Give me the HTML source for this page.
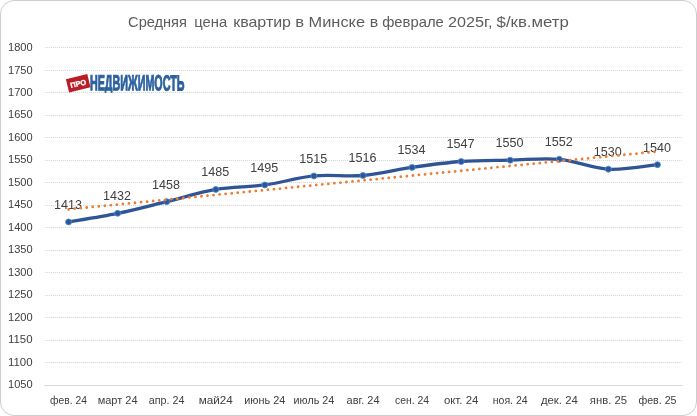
<!DOCTYPE html>
<html><head><meta charset="utf-8"><title>chart</title>
<style>
html,body{margin:0;padding:0;background:#fff;}
body{width:697px;height:416px;overflow:hidden;font-family:"Liberation Sans",sans-serif;}
svg{display:block}
text{font-family:"Liberation Sans",sans-serif;fill:#404040}
.t text{fill:#5c5c5c;font-size:15px}
</style></head><body>
<svg width="697" height="416" viewBox="0 0 697 416">
<rect x="0" y="0" width="697" height="416" fill="#fff"/>
<rect x="0.5" y="0.5" width="696" height="415" rx="13.5" ry="13.5" fill="#fff" stroke="#cecece" stroke-width="1"/>
<g class="t">
<text x="128.1" y="27" textLength="58.8" lengthAdjust="spacingAndGlyphs">Средняя</text>
<text x="194.3" y="27" textLength="32.9" lengthAdjust="spacingAndGlyphs">цена</text>
<text x="233.2" y="27" textLength="57.8" lengthAdjust="spacingAndGlyphs">квартир</text>
<text x="295.3" y="27" textLength="8.8" lengthAdjust="spacingAndGlyphs">в</text>
<text x="308.6" y="27" textLength="56.4" lengthAdjust="spacingAndGlyphs">Минске</text>
<text x="369.7" y="27" textLength="8.4" lengthAdjust="spacingAndGlyphs">в</text>
<text x="382.2" y="27" textLength="61.6" lengthAdjust="spacingAndGlyphs">феврале</text>
<text x="448.0" y="27" textLength="44.5" lengthAdjust="spacingAndGlyphs">2025г,</text>
<text x="496.6" y="27" textLength="72.2" lengthAdjust="spacingAndGlyphs">$/кв.метр</text>
</g>
<line x1="44.0" x2="682.5" y1="385.5" y2="385.5" stroke="#d9d9d9" stroke-width="1"/>
<text x="8.0" y="388.0" font-size="11.4" textLength="24.6" lengthAdjust="spacingAndGlyphs">1050</text>
<line x1="44.0" x2="682.5" y1="362.5" y2="362.5" stroke="#f8f8f8" stroke-width="1"/>
<line x1="44.0" x2="682.5" y1="362.5" y2="362.5" stroke="#d9d9d9" stroke-width="1" stroke-dasharray="1 1" stroke-dashoffset="1"/>
<text x="8.0" y="365.5" font-size="11.4" textLength="24.6" lengthAdjust="spacingAndGlyphs">1100</text>
<line x1="44.0" x2="682.5" y1="340.5" y2="340.5" stroke="#f8f8f8" stroke-width="1"/>
<line x1="44.0" x2="682.5" y1="340.5" y2="340.5" stroke="#d9d9d9" stroke-width="1" stroke-dasharray="1 1" stroke-dashoffset="1"/>
<text x="8.0" y="343.1" font-size="11.4" textLength="24.6" lengthAdjust="spacingAndGlyphs">1150</text>
<line x1="44.0" x2="682.5" y1="317.5" y2="317.5" stroke="#f8f8f8" stroke-width="1"/>
<line x1="44.0" x2="682.5" y1="317.5" y2="317.5" stroke="#d9d9d9" stroke-width="1" stroke-dasharray="1 1" stroke-dashoffset="1"/>
<text x="8.0" y="320.6" font-size="11.4" textLength="24.6" lengthAdjust="spacingAndGlyphs">1200</text>
<line x1="44.0" x2="682.5" y1="295.5" y2="295.5" stroke="#f8f8f8" stroke-width="1"/>
<line x1="44.0" x2="682.5" y1="295.5" y2="295.5" stroke="#d9d9d9" stroke-width="1" stroke-dasharray="1 1" stroke-dashoffset="1"/>
<text x="8.0" y="298.1" font-size="11.4" textLength="24.6" lengthAdjust="spacingAndGlyphs">1250</text>
<line x1="44.0" x2="682.5" y1="272.5" y2="272.5" stroke="#f8f8f8" stroke-width="1"/>
<line x1="44.0" x2="682.5" y1="272.5" y2="272.5" stroke="#d9d9d9" stroke-width="1" stroke-dasharray="1 1" stroke-dashoffset="1"/>
<text x="8.0" y="275.7" font-size="11.4" textLength="24.6" lengthAdjust="spacingAndGlyphs">1300</text>
<line x1="44.0" x2="682.5" y1="250.5" y2="250.5" stroke="#f8f8f8" stroke-width="1"/>
<line x1="44.0" x2="682.5" y1="250.5" y2="250.5" stroke="#d9d9d9" stroke-width="1" stroke-dasharray="1 1" stroke-dashoffset="1"/>
<text x="8.0" y="253.2" font-size="11.4" textLength="24.6" lengthAdjust="spacingAndGlyphs">1350</text>
<line x1="44.0" x2="682.5" y1="227.5" y2="227.5" stroke="#f8f8f8" stroke-width="1"/>
<line x1="44.0" x2="682.5" y1="227.5" y2="227.5" stroke="#d9d9d9" stroke-width="1" stroke-dasharray="1 1" stroke-dashoffset="1"/>
<text x="8.0" y="230.7" font-size="11.4" textLength="24.6" lengthAdjust="spacingAndGlyphs">1400</text>
<line x1="44.0" x2="682.5" y1="205.5" y2="205.5" stroke="#f8f8f8" stroke-width="1"/>
<line x1="44.0" x2="682.5" y1="205.5" y2="205.5" stroke="#d9d9d9" stroke-width="1" stroke-dasharray="1 1" stroke-dashoffset="1"/>
<text x="8.0" y="208.3" font-size="11.4" textLength="24.6" lengthAdjust="spacingAndGlyphs">1450</text>
<line x1="44.0" x2="682.5" y1="182.5" y2="182.5" stroke="#f8f8f8" stroke-width="1"/>
<line x1="44.0" x2="682.5" y1="182.5" y2="182.5" stroke="#d9d9d9" stroke-width="1" stroke-dasharray="1 1" stroke-dashoffset="1"/>
<text x="8.0" y="185.8" font-size="11.4" textLength="24.6" lengthAdjust="spacingAndGlyphs">1500</text>
<line x1="44.0" x2="682.5" y1="160.5" y2="160.5" stroke="#f8f8f8" stroke-width="1"/>
<line x1="44.0" x2="682.5" y1="160.5" y2="160.5" stroke="#d9d9d9" stroke-width="1" stroke-dasharray="1 1" stroke-dashoffset="1"/>
<text x="8.0" y="163.3" font-size="11.4" textLength="24.6" lengthAdjust="spacingAndGlyphs">1550</text>
<line x1="44.0" x2="682.5" y1="137.5" y2="137.5" stroke="#f8f8f8" stroke-width="1"/>
<line x1="44.0" x2="682.5" y1="137.5" y2="137.5" stroke="#d9d9d9" stroke-width="1" stroke-dasharray="1 1" stroke-dashoffset="1"/>
<text x="8.0" y="140.9" font-size="11.4" textLength="24.6" lengthAdjust="spacingAndGlyphs">1600</text>
<line x1="44.0" x2="682.5" y1="115.5" y2="115.5" stroke="#f8f8f8" stroke-width="1"/>
<line x1="44.0" x2="682.5" y1="115.5" y2="115.5" stroke="#d9d9d9" stroke-width="1" stroke-dasharray="1 1" stroke-dashoffset="1"/>
<text x="8.0" y="118.4" font-size="11.4" textLength="24.6" lengthAdjust="spacingAndGlyphs">1650</text>
<line x1="44.0" x2="682.5" y1="92.5" y2="92.5" stroke="#f8f8f8" stroke-width="1"/>
<line x1="44.0" x2="682.5" y1="92.5" y2="92.5" stroke="#d9d9d9" stroke-width="1" stroke-dasharray="1 1" stroke-dashoffset="1"/>
<text x="8.0" y="95.9" font-size="11.4" textLength="24.6" lengthAdjust="spacingAndGlyphs">1700</text>
<line x1="44.0" x2="682.5" y1="70.5" y2="70.5" stroke="#f8f8f8" stroke-width="1"/>
<line x1="44.0" x2="682.5" y1="70.5" y2="70.5" stroke="#d9d9d9" stroke-width="1" stroke-dasharray="1 1" stroke-dashoffset="1"/>
<text x="8.0" y="73.5" font-size="11.4" textLength="24.6" lengthAdjust="spacingAndGlyphs">1750</text>
<line x1="44.0" x2="682.5" y1="47.5" y2="47.5" stroke="#f8f8f8" stroke-width="1"/>
<line x1="44.0" x2="682.5" y1="47.5" y2="47.5" stroke="#d9d9d9" stroke-width="1" stroke-dasharray="1 1" stroke-dashoffset="1"/>
<text x="8.0" y="51.0" font-size="11.4" textLength="24.6" lengthAdjust="spacingAndGlyphs">1800</text>
<text x="50.1" y="403.8" font-size="11" textLength="36.8" lengthAdjust="spacingAndGlyphs">фев. 24</text>
<text x="97.7" y="403.8" font-size="11" textLength="39.8" lengthAdjust="spacingAndGlyphs">март 24</text>
<text x="148.8" y="403.8" font-size="11" textLength="35.7" lengthAdjust="spacingAndGlyphs">апр. 24</text>
<text x="198.7" y="403.8" font-size="11" textLength="34.1" lengthAdjust="spacingAndGlyphs">май24</text>
<text x="244.3" y="403.8" font-size="11" textLength="41.0" lengthAdjust="spacingAndGlyphs">июнь 24</text>
<text x="293.6" y="403.8" font-size="11" textLength="40.7" lengthAdjust="spacingAndGlyphs">июль 24</text>
<text x="346.6" y="403.8" font-size="11" textLength="32.9" lengthAdjust="spacingAndGlyphs">авг. 24</text>
<text x="395.0" y="403.8" font-size="11" textLength="34.1" lengthAdjust="spacingAndGlyphs">сен. 24</text>
<text x="443.9" y="403.8" font-size="11" textLength="34.5" lengthAdjust="spacingAndGlyphs">окт. 24</text>
<text x="492.7" y="403.8" font-size="11" textLength="35.0" lengthAdjust="spacingAndGlyphs">ноя. 24</text>
<text x="540.9" y="403.8" font-size="11" textLength="36.9" lengthAdjust="spacingAndGlyphs">дек. 24</text>
<text x="589.8" y="403.8" font-size="11" textLength="37.2" lengthAdjust="spacingAndGlyphs">янв. 25</text>
<text x="638.4" y="403.8" font-size="11" textLength="38.1" lengthAdjust="spacingAndGlyphs">фев. 25</text>
<g>
<g transform="rotate(-13.5 77.9 83.3)">
<rect x="67.2" y="76.45" width="22" height="13.7" fill="#ba1d26"/>
<text x="78.1" y="86.3" font-size="7.4" font-weight="bold" text-anchor="middle" style="fill:#fff;stroke:#fff;stroke-width:0.35px">ПРО</text>
</g>
<clipPath id="lc"><rect x="85" y="70" width="110" height="22.8"/></clipPath>
<g clip-path="url(#lc)"><text transform="translate(89.9 90.25) rotate(0.1) scale(0.4934 1)" x="0" y="0" font-size="21.8" font-weight="bold" style="fill:#2c619f;stroke:#2c619f;stroke-width:0.8px;vector-effect:non-scaling-stroke;stroke-linejoin:miter">НЕДВИЖИМОСТЬ</text></g>
</g>
<path d="M68.54 221.91 C76.72 220.48 101.26 216.73 117.62 213.35 C133.97 209.97 150.33 205.61 166.69 201.63 C183.05 197.65 199.41 192.24 215.77 189.46 C232.13 186.68 248.49 187.21 264.85 184.95 C281.21 182.70 297.56 177.52 313.92 175.94 C330.28 174.36 346.64 176.92 363.00 175.49 C379.36 174.06 395.72 169.71 412.08 167.38 C428.44 165.05 444.79 162.72 461.15 161.52 C477.51 160.32 493.87 160.54 510.23 160.17 C526.59 159.79 542.95 157.76 559.31 159.27 C575.67 160.77 592.03 168.28 608.38 169.18 C624.74 170.08 649.28 165.42 657.46 164.67" fill="none" stroke="#2f5597" stroke-width="3.3" stroke-linecap="round" stroke-linejoin="round"/>
<circle cx="68.54" cy="221.91" r="3" fill="#2f5597" stroke="#4a90d9" stroke-width="0.8"/>
<circle cx="117.62" cy="213.35" r="3" fill="#2f5597" stroke="#4a90d9" stroke-width="0.8"/>
<circle cx="166.69" cy="201.63" r="3" fill="#2f5597" stroke="#4a90d9" stroke-width="0.8"/>
<circle cx="215.77" cy="189.46" r="3" fill="#2f5597" stroke="#4a90d9" stroke-width="0.8"/>
<circle cx="264.85" cy="184.95" r="3" fill="#2f5597" stroke="#4a90d9" stroke-width="0.8"/>
<circle cx="313.92" cy="175.94" r="3" fill="#2f5597" stroke="#4a90d9" stroke-width="0.8"/>
<circle cx="363.00" cy="175.49" r="3" fill="#2f5597" stroke="#4a90d9" stroke-width="0.8"/>
<circle cx="412.08" cy="167.38" r="3" fill="#2f5597" stroke="#4a90d9" stroke-width="0.8"/>
<circle cx="461.15" cy="161.52" r="3" fill="#2f5597" stroke="#4a90d9" stroke-width="0.8"/>
<circle cx="510.23" cy="160.17" r="3" fill="#2f5597" stroke="#4a90d9" stroke-width="0.8"/>
<circle cx="559.31" cy="159.27" r="3" fill="#2f5597" stroke="#4a90d9" stroke-width="0.8"/>
<circle cx="608.38" cy="169.18" r="3" fill="#2f5597" stroke="#4a90d9" stroke-width="0.8"/>
<circle cx="657.46" cy="164.67" r="3" fill="#2f5597" stroke="#4a90d9" stroke-width="0.8"/>
<text x="53.9" y="208.8" font-size="12.8" textLength="28.0" lengthAdjust="spacingAndGlyphs">1413</text>
<text x="103.0" y="200.2" font-size="12.8" textLength="28.0" lengthAdjust="spacingAndGlyphs">1432</text>
<text x="152.1" y="188.5" font-size="12.8" textLength="28.0" lengthAdjust="spacingAndGlyphs">1458</text>
<text x="201.2" y="176.4" font-size="12.8" textLength="28.0" lengthAdjust="spacingAndGlyphs">1485</text>
<text x="250.2" y="171.9" font-size="12.8" textLength="28.0" lengthAdjust="spacingAndGlyphs">1495</text>
<text x="299.3" y="162.8" font-size="12.8" textLength="28.0" lengthAdjust="spacingAndGlyphs">1515</text>
<text x="348.4" y="162.4" font-size="12.8" textLength="28.0" lengthAdjust="spacingAndGlyphs">1516</text>
<text x="397.5" y="154.3" font-size="12.8" textLength="28.0" lengthAdjust="spacingAndGlyphs">1534</text>
<text x="446.6" y="148.4" font-size="12.8" textLength="28.0" lengthAdjust="spacingAndGlyphs">1547</text>
<text x="495.6" y="147.1" font-size="12.8" textLength="28.0" lengthAdjust="spacingAndGlyphs">1550</text>
<text x="544.7" y="146.2" font-size="12.8" textLength="28.0" lengthAdjust="spacingAndGlyphs">1552</text>
<text x="593.8" y="156.1" font-size="12.8" textLength="28.0" lengthAdjust="spacingAndGlyphs">1530</text>
<text x="642.9" y="151.6" font-size="12.8" textLength="28.0" lengthAdjust="spacingAndGlyphs">1540</text>
<line x1="68.54" y1="209.29" x2="657.46" y2="151.47" stroke="#ed7d31" stroke-width="2.8" stroke-linecap="round" stroke-dasharray="0.01 6.06"/>
</svg></body></html>
